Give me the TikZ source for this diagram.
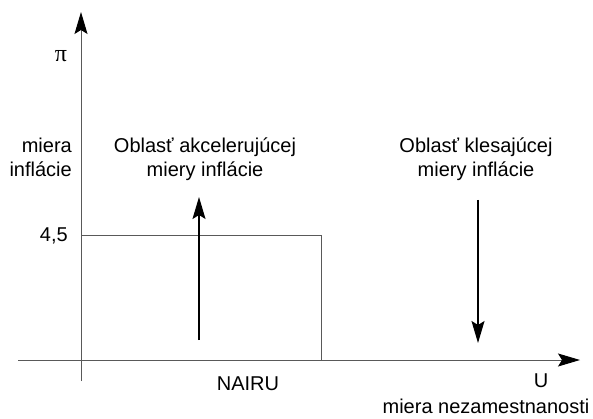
\documentclass[tikz,border=0pt]{standalone}
\usepackage{fontspec}
\setmainfont{Liberation Sans}
\newfontfamily\pifont{Liberation Serif}
\usetikzlibrary{arrows.meta}
\begin{document}
\begin{tikzpicture}[x=1pt,y=-1pt,
  lbl/.style={inner sep=0pt,font=\fontsize{20}{24}\selectfont,align=center},
  tip/.style={-{Stealth[length=22pt,width=13pt,inset=4pt,color=black]}},
  axis/.style={draw=black!65,line width=1pt,tip},
  mov/.style={draw=black,line width=1.3pt,tip},
  rectln/.style={draw=black!65,line width=1pt}]
\useasboundingbox (0,0) rectangle (593,419);
% axes
\coordinate (ybot) at (81,381);
\coordinate (ytop) at (81,12);
\coordinate (xleft) at (18,360);
\coordinate (xright) at (580,360);
\draw[axis] (ybot) -- (ytop);
\draw[axis] (xleft) -- (xright);
% rectangle
\coordinate (r1) at (81,236);
\coordinate (r2) at (321,236);
\coordinate (r3) at (321,360);
\draw[rectln] (r1) -- (r2) -- (r3);
% movement arrows
\coordinate (ua) at (199,340);
\coordinate (ub) at (199,197);
\coordinate (da) at (478,200);
\coordinate (db) at (478,343);
\draw[mov] (ua) -- (ub);
\draw[mov] (da) -- (db);
% labels
\node[lbl,anchor=base,font=\fontsize{24}{24}\selectfont] (pi) at (61,62) {\pifont π};
\node[lbl,anchor=base east,align=right] (mi) at (72,177) {miera\\inflácie};
\node[lbl,anchor=base east] (v45) at (68,242) {4,5};
\node[lbl,anchor=base] (acc) at (205,177) {Oblasť akcelerujúcej\\miery inflácie};
\node[lbl,anchor=base] (kle) at (476,177) {Oblasť klesajúcej\\miery inflácie};
\node[lbl,anchor=base] (nairu) at (248,390) {NAIRU};
\node[lbl,anchor=base] (u) at (541,387) {U};
\node[lbl,anchor=base] (mn) at (486,413) {miera nezamestnanosti};
\end{tikzpicture}
\end{document}
